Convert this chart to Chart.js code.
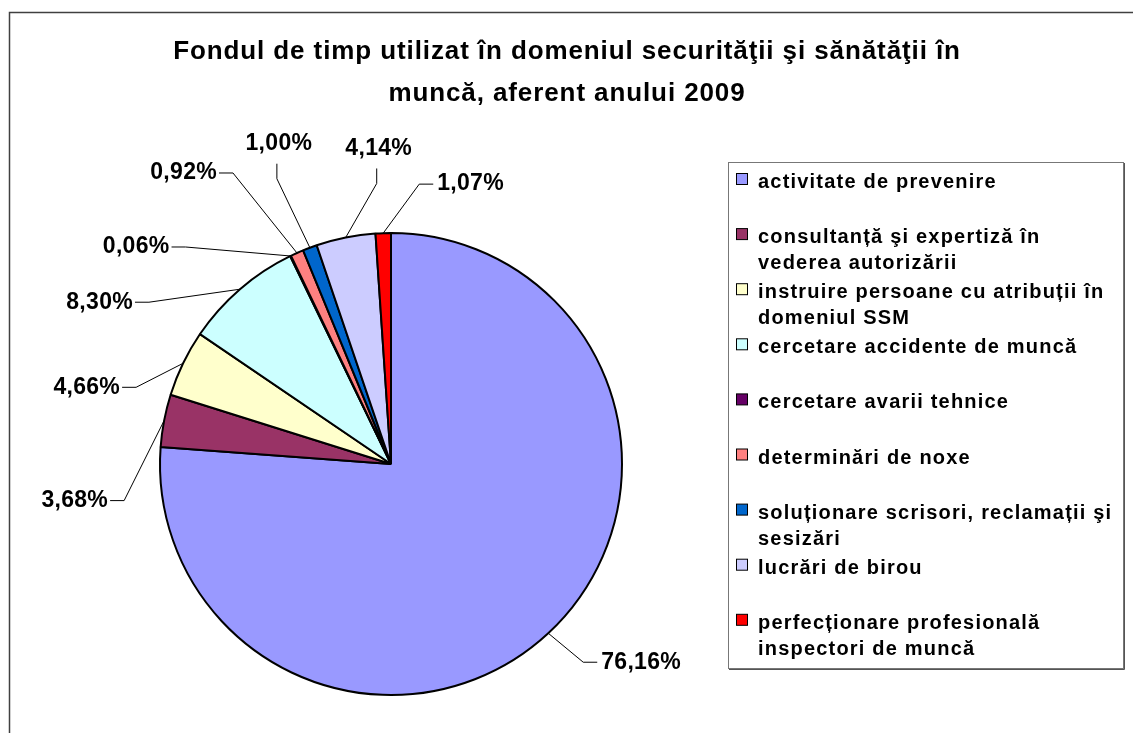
<!DOCTYPE html>
<html>
<head>
<meta charset="utf-8">
<script src="https://cdn.jsdelivr.net/npm/chart.js@4/dist/chart.umd.min.js"></script>
<style>
  body { margin: 0; background: #fff; }
  #wrap { position: relative; width: 1133px; height: 733px; }
</style>
</head>
<body>
<div id="wrap"><canvas id="chart" width="1133" height="733"></canvas></div>
<script>
'use strict';

const titleLines = ['Fondul de timp utilizat în domeniul securităţii şi sănătăţii în', 'muncă, aferent anului 2009'];

const categories = [
  ['activitate de prevenire'],
  ['consultanță şi expertiză în', 'vederea autorizării'],
  ['instruire persoane cu atribuții în', 'domeniul SSM'],
  ['cercetare accidente de muncă'],
  ['cercetare avarii tehnice'],
  ['determinări de noxe'],
  ['soluționare scrisori, reclamații şi', 'sesizări'],
  ['lucrări de birou'],
  ['perfecționare profesională', 'inspectori de muncă']
];

const shares = [76.16, 3.68, 4.66, 8.30, 0.06, 0.92, 1.00, 4.14, 1.07];

const sliceColors = ['#9999FF', '#993366', '#FFFFCC', '#CCFFFF', '#660066', '#FF8080', '#0066CC', '#CCCCFF', '#FF0000'];

// leader line elbow offset from the slice edge, and which way the label sits
const labelLayout = [
  { dx: 35, dy: 29, side: 'right' },
  { dx: -40, dy: 80, side: 'left' },
  { dx: -47, dy: 24, side: 'left' },
  { dx: -91, dy: 13, side: 'left' },
  { dx: -105, dy: -9, side: 'left' },
  { dx: -64, dy: -80, side: 'left' },
  { dx: -33, dy: -69, side: 'up' },
  { dx: 31, dy: -54, side: 'up' },
  { dx: 36, dy: -49, side: 'right' }
];

function fmt(v) {
  return v.toFixed(2).replace('.', ',') + '%';
}

const decorPlugin = {
  id: 'decor',
  afterDraw(chart) {
    const ctx = chart.ctx;
    ctx.save();

    // outer frame
    ctx.strokeStyle = '#404040';
    ctx.lineWidth = 1.5;
    ctx.strokeRect(9.5, 12.5, 1200, 800);

    // title
    ctx.fillStyle = '#000';
    ctx.font = 'bold 26px "Liberation Sans", Arial, sans-serif';
    ctx.letterSpacing = '0.9px';
    ctx.textAlign = 'center';
    ctx.textBaseline = 'alphabetic';
    ctx.fillText(titleLines[0], 567, 59);
    ctx.fillText(titleLines[1], 567, 101);

    // data labels with leader lines
    const meta = chart.getDatasetMeta(0);
    ctx.font = 'bold 23px "Liberation Sans", Arial, sans-serif';
    ctx.letterSpacing = '0.3px';
    ctx.textBaseline = 'middle';
    meta.data.forEach((arc, i) => {
      const p = arc.getProps(['x', 'y', 'startAngle', 'endAngle', 'outerRadius'], true);
      const mid = (p.startAngle + p.endAngle) / 2;
      const ax = p.x + Math.cos(mid) * p.outerRadius;
      const ay = p.y + Math.sin(mid) * p.outerRadius;
      const lay = labelLayout[i];
      const ex = ax + lay.dx;
      const ey = ay + lay.dy;
      let fx = ex, fy = ey;
      if (lay.side === 'left') fx = ex - 14;
      else if (lay.side === 'right') fx = ex + 14;
      else fy = ey - 15;
      ctx.beginPath();
      ctx.strokeStyle = '#000';
      ctx.lineWidth = 1;
      ctx.moveTo(ax, ay);
      ctx.lineTo(ex, ey);
      ctx.lineTo(fx, fy);
      ctx.stroke();
      const txt = fmt(shares[i]);
      if (lay.side === 'left') {
        ctx.textAlign = 'right';
        ctx.fillText(txt, fx - 2, fy);
      } else if (lay.side === 'right') {
        ctx.textAlign = 'left';
        ctx.fillText(txt, fx + 4, fy);
      } else {
        ctx.textAlign = 'center';
        ctx.fillText(txt, fx + 2, fy - 20);
      }
    });

    // legend
    const lx = 728, ly = 162, lw = 395, lh = 506;
    ctx.fillStyle = '#fff';
    ctx.fillRect(lx, ly, lw, lh);
    ctx.strokeStyle = '#777';
    ctx.lineWidth = 1;
    ctx.strokeRect(lx + 0.5, ly + 0.5, lw, lh);
    ctx.beginPath();
    ctx.strokeStyle = '#555';
    ctx.moveTo(lx + lw + 1.5, ly + 1);
    ctx.lineTo(lx + lw + 1.5, ly + lh + 1.5);
    ctx.lineTo(lx + 1, ly + lh + 1.5);
    ctx.stroke();

    ctx.font = 'bold 20px "Liberation Sans", Arial, sans-serif';
    ctx.letterSpacing = '1.2px';
    ctx.textAlign = 'left';
    ctx.textBaseline = 'alphabetic';
    const step = 55.1;
    chart.data.labels.forEach((lab, i) => {
      const base = 188 + i * step;
      ctx.fillStyle = sliceColors[i];
      ctx.fillRect(736.5, base - 14.5, 11, 11);
      ctx.strokeStyle = '#000';
      ctx.lineWidth = 1;
      ctx.strokeRect(736.5, base - 14.5, 11, 11);
      ctx.fillStyle = '#000';
      lab.forEach((line, k) => {
        ctx.fillText(line, 758, base + k * 26);
      });
    });

    ctx.restore();
  }
};

new Chart(document.getElementById('chart'), {
  type: 'pie',
  data: {
    labels: categories,
    datasets: [{
      data: shares,
      backgroundColor: sliceColors,
      borderColor: '#000',
      borderWidth: 2
    }]
  },
  options: {
    responsive: false,
    animation: false,
    layout: {
      padding: { left: 159, right: 510, top: 232, bottom: 37 }
    },
    plugins: {
      legend: { display: false },
      title: { display: false },
      tooltip: { enabled: false }
    }
  },
  plugins: [decorPlugin]
});
</script>
</body>
</html>
